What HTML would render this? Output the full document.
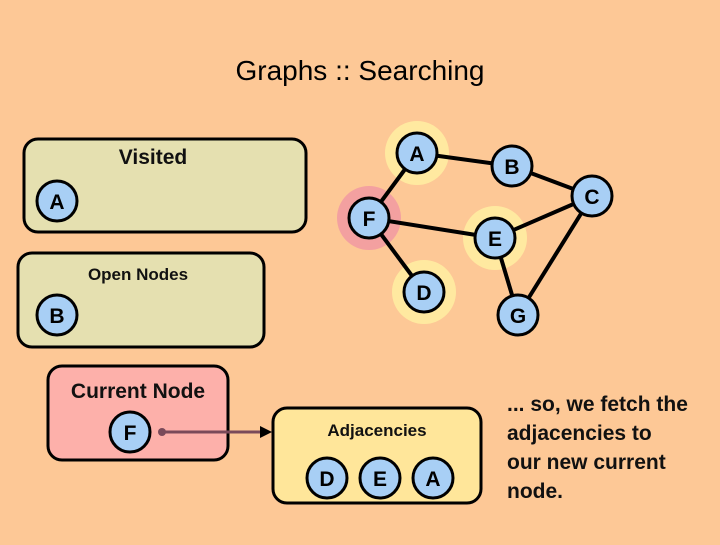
<!DOCTYPE html>
<html><head><style>
body{margin:0;width:720px;height:540px;overflow:hidden;background:#fdc896;}
svg text{font-family:"Liberation Sans",sans-serif;}
</style></head><body>
<svg width="720" height="540" xmlns="http://www.w3.org/2000/svg">
<defs>
<g id="n"><circle r="20" fill="#a8cff5" stroke="#000" stroke-width="3"/></g>
</defs>
<text x="360" y="80" font-size="28" text-anchor="middle" fill="#000">Graphs :: Searching</text>
<!-- boxes -->
<rect x="24" y="139" width="282" height="93" rx="14" fill="#e5e0b0" stroke="#000" stroke-width="3"/>
<text x="153" y="164" font-size="21" font-weight="bold" text-anchor="middle" fill="#111">Visited</text>
<rect x="18" y="253" width="246" height="94" rx="14" fill="#e5e0b0" stroke="#000" stroke-width="3"/>
<text x="138" y="280" font-size="17" font-weight="bold" text-anchor="middle" fill="#111">Open Nodes</text>
<rect x="48" y="366" width="180" height="94" rx="14" fill="#fdb0aa" stroke="#000" stroke-width="3"/>
<text x="138" y="398" font-size="21" font-weight="bold" text-anchor="middle" fill="#111">Current Node</text>
<rect x="273" y="408" width="208" height="95" rx="14" fill="#ffe69a" stroke="#000" stroke-width="3"/>
<text x="377" y="436" font-size="17" font-weight="bold" text-anchor="middle" fill="#111">Adjacencies</text>
<line x1="162" y1="432" x2="262" y2="432" stroke="#7a4a5a" stroke-width="3"/>
<circle cx="162" cy="432" r="4" fill="#7a4a5a"/>
<polygon points="272,432 260,426 260,438" fill="#000"/>
<!-- halos -->
<circle cx="417" cy="153" r="32" fill="#ffe9a0"/>
<circle cx="369" cy="218" r="32" fill="#f3a0a0"/>
<circle cx="495" cy="238" r="32" fill="#ffe9a0"/>
<circle cx="424" cy="292" r="32" fill="#ffe9a0"/>
<!-- edges -->
<g stroke="#000" stroke-width="4">
<line x1="417" y1="153" x2="512" y2="166"/>
<line x1="512" y1="166" x2="592" y2="196"/>
<line x1="417" y1="153" x2="369" y2="218"/>
<line x1="369" y1="218" x2="495" y2="238"/>
<line x1="495" y1="238" x2="592" y2="196"/>
<line x1="369" y1="218" x2="424" y2="292"/>
<line x1="495" y1="238" x2="518" y2="315"/>
<line x1="592" y1="196" x2="518" y2="315"/>
</g>
<g font-size="21" font-weight="bold" text-anchor="middle" fill="#000">
<use href="#n" x="417" y="153"/><text x="417" y="161">A</text>
<use href="#n" x="512" y="166"/><text x="512" y="174">B</text>
<use href="#n" x="592" y="196"/><text x="592" y="204">C</text>
<use href="#n" x="369" y="218"/><text x="369" y="226">F</text>
<use href="#n" x="495" y="238"/><text x="495" y="246">E</text>
<use href="#n" x="424" y="292"/><text x="424" y="300">D</text>
<use href="#n" x="518" y="315"/><text x="518" y="323">G</text>
<use href="#n" x="57" y="201"/><text x="57" y="209">A</text>
<use href="#n" x="57" y="315"/><text x="57" y="323">B</text>
<use href="#n" x="130" y="432"/><text x="130" y="440">F</text>
<use href="#n" x="327" y="478"/><text x="327" y="486">D</text>
<use href="#n" x="380" y="478"/><text x="380" y="486">E</text>
<use href="#n" x="433" y="478"/><text x="433" y="486">A</text>
</g>
<g font-size="21" font-weight="bold" fill="#111">
<text x="507" y="411">... so, we fetch the</text>
<text x="507" y="440">adjacencies to</text>
<text x="507" y="469">our new current</text>
<text x="507" y="498">node.</text>
</g>
</svg>
</body></html>
